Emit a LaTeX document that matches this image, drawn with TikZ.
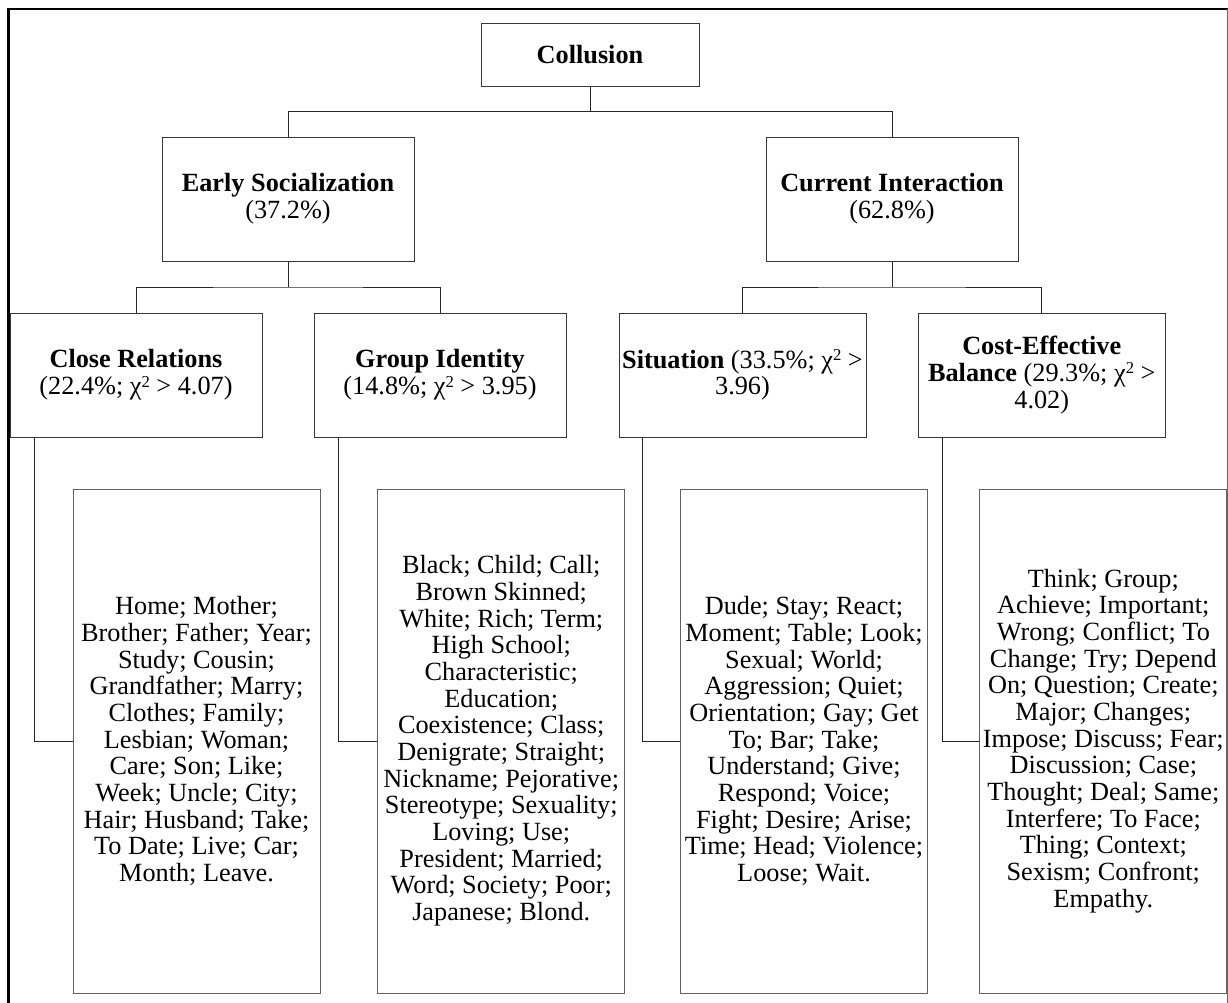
\documentclass[tikz,border=0pt]{standalone}
\usepackage{fontspec}
\setmainfont{Liberation Serif}
% small raised "2" for the chi-square values
\newcommand{\sqsup}{\raisebox{0.62ex}{\fontsize{12.5pt}{12.5pt}\selectfont 2}}
\begin{document}
\begin{tikzpicture}[x=0.75pt,y=-0.75pt,
  txt/.style={font=\fontsize{19.7pt}{20pt}\selectfont},
  box/.style={draw=black!78, line width=0.75pt, rectangle, inner sep=0pt,
              align=center, txt},
  headbox/.style={box, minimum width=189pt, minimum height=93pt},
  catbox/.style={box, minimum height=93pt},
  leafbox/.style={box, draw=black!62, minimum height=378pt},
  link/.style={draw=black!85, line width=0.75pt}
]
\useasboundingbox (0,0) rectangle (1228,1003);
\clip (0,0) rectangle (1228,1003);

% outer frame (runs past the lower edge)
\draw[line width=1.6pt] (8.5,1010) -- (8.5,9) -- (1227.5,9);
\draw[black!60, line width=0.75pt] (1227,9) -- (1227,1010);

% root
\node[box, minimum width=163.5pt, minimum height=47.25pt] (coll) at (590,54.5)
  {\textbf{Collusion}};

% second level
\node[headbox] (es) at (288,199) {\textbf{Early Socialization}\\(37.2\%)};
\node[headbox] (ci) at (892,199) {\textbf{Current Interaction}\\(62.8\%)};

% third level
\node[catbox, minimum width=189pt] (cr) at (136,375)
  {\textbf{Close Relations}\\(22.4\%; χ\sqsup{} > 4.07)};
\node[catbox, minimum width=189pt] (gi) at (440,375)
  {\textbf{Group Identity}\\(14.8\%; χ\sqsup{} > 3.95)};
\node[catbox, minimum width=185.25pt] (sit) at (742.5,375)
  {\textbf{Situation} (33.5\%; χ\sqsup{} >\\3.96)};
\node[catbox, minimum width=185.6pt] (cost) at (1041.75,375)
  {\textbf{Cost-Effective}\\\textbf{Balance} (29.3\%; χ\sqsup{} >\\4.02)};

% word lists
\node[leafbox, minimum width=185.25pt] (l1) at (196.5,741)
  {Home; Mother;\\Brother; Father; Year;\\Study; Cousin;\\Grandfather; Marry;\\
   Clothes; Family;\\Lesbian; Woman;\\Care; Son; Like;\\Week; Uncle; City;\\
   Hair; Husband; Take;\\To Date; Live; Car;\\Month; Leave.};
\node[leafbox, minimum width=185.6pt] (l2) at (501.25,741)
  {Black; Child; Call;\\Brown Skinned;\\White; Rich; Term;\\High School;\\
   Characteristic;\\Education;\\Coexistence; Class;\\Denigrate; Straight;\\
   Nickname; Pejorative;\\Stereotype; Sexuality;\\Loving; Use;\\
   President; Married;\\Word; Society; Poor;\\Japanese; Blond.};
\node[leafbox, minimum width=185.3pt] (l3) at (804,741)
  {Dude; Stay; React;\\Moment; Table; Look;\\Sexual; World;\\Aggression; Quiet;\\
   Orientation; Gay; Get\\To; Bar; Take;\\Understand; Give;\\Respond; Voice;\\
   Fight; Desire; Arise;\\Time; Head; Violence;\\Loose; Wait.};
\node[leafbox, minimum width=185.5pt] (l4) at (1103.3,741)
  {Think; Group;\\Achieve; Important;\\Wrong; Conflict; To\\Change; Try; Depend\\
   On; Question; Create;\\Major; Changes;\\Impose; Discuss; Fear;\\
   Discussion; Case;\\Thought; Deal; Same;\\Interfere; To Face;\\
   Thing; Context;\\Sexism; Confront;\\Empathy.};

% tree connectors
\coordinate (j1) at (590,111.7);
\coordinate (j2) at (288,287);
\coordinate (j3) at (892,287);
\draw[link] (coll.south) -- (j1);
\draw[link] (es.north) |- (j1) -| (ci.north);
\draw[link] (es.south) -- (j2);
\draw[link] (cr.north) |- (j2) -| (gi.north);
\draw[link] (ci.south) -- (j3);
\draw[link] (sit.north) |- (j3) -| (cost.north);

% elbows to the word lists
\draw[link] ([xshift=18.75pt]cr.south west) |- (l1.west);
\draw[link] ([xshift=18.75pt]gi.south west) |- (l2.west);
\draw[link] ([xshift=18pt]sit.south west) |- (l3.west);
\draw[link] ([xshift=18.75pt]cost.south west) |- (l4.west);
\end{tikzpicture}
\end{document}
